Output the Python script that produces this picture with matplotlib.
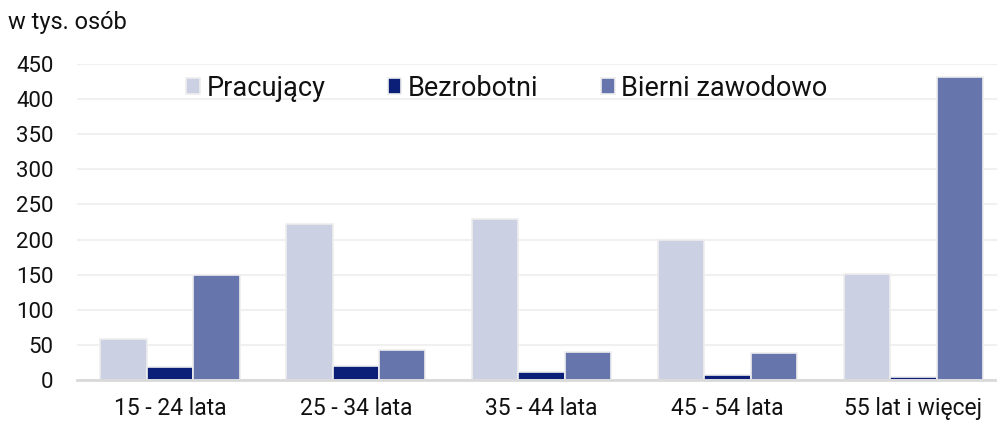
import numpy as np
import matplotlib.pyplot as plt

# === Data (w tys. osób) ===
categories = ["15 - 24 lata", "25 - 34 lata", "35 - 44 lata", "45 - 54 lata", "55 lat i więcej"]
pracujacy = [58, 222, 229, 199, 151]
bezrobotni = [18, 20, 11, 7, 4]
bierni = [150, 43, 40, 38, 432]
series_names = ["Pracujący", "Bezrobotni", "Bierni zawodowo"]
series_colors = ["#cbd0e3", "#0b1f78", "#6676ad"]
y_ticks = [0, 50, 100, 150, 200, 250, 300, 350, 400, 450]

plt.rcParams['font.family'] = ['Roboto', 'DejaVu Sans']

fig = plt.figure(figsize=(9.97, 4.21), dpi=100)
ax = fig.add_axes([77 / 997, 41 / 421, 920 / 997, 316 / 421])

x = np.arange(len(categories))
width = 0.25
for i, (vals, name, col) in enumerate(zip([pracujacy, bezrobotni, bierni], series_names, series_colors)):
    ax.bar(x + (i - 1) * width, vals, width, color=col, label=name,
           edgecolor="#eeeeee", linewidth=1.2, zorder=3)

ax.set_xlim(-0.5, 4.45)
ax.set_ylim(0, 450)
ax.set_yticks(y_ticks)
ax.set_xticks(x)
ax.set_xticklabels(categories)
ax.tick_params(axis='y', length=0, pad=17, labelsize=16, colors="#111111")
ax.tick_params(axis='x', length=0, pad=12, labelsize=16.5, colors="#111111")

ax.grid(axis='y', color="#f0f0f0", linewidth=1.5, zorder=0)
for s in ["top", "right", "left"]:
    ax.spines[s].set_visible(False)
ax.spines["bottom"].set_color("#d9d9d9")
ax.spines["bottom"].set_linewidth(2)
ax.spines["bottom"].set_zorder(4)

fig.text(8 / 997, 1 - 22 / 421, "w tys. osób", fontsize=17, va="center", ha="left", color="#111111")

ax.legend(loc="center", bbox_to_anchor=(507 / 997, 1 - 88 / 421), bbox_transform=fig.transFigure,
          ncol=3, frameon=False, fontsize=19.5, handlelength=0.5, handleheight=0.5,
          handletextpad=0.25, columnspacing=2.3, borderaxespad=0, labelcolor="#111111")

fig.savefig("out.png", dpi=100)
